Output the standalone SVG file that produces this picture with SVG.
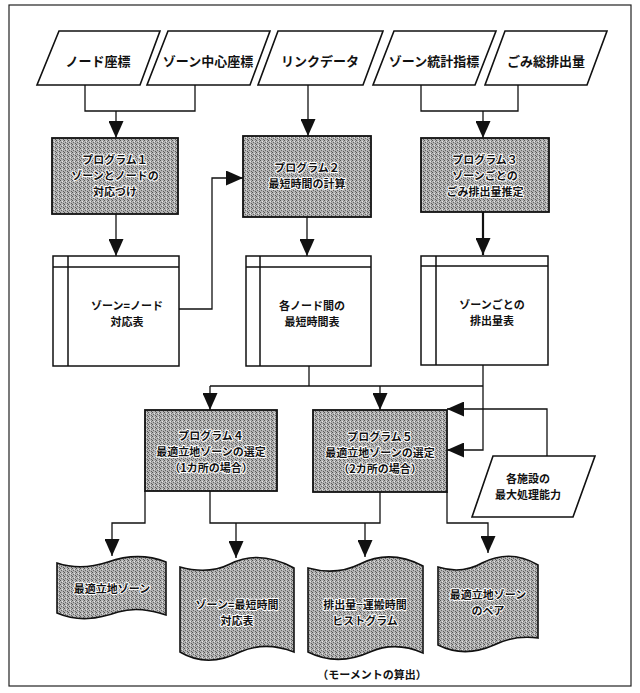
<svg xmlns="http://www.w3.org/2000/svg" width="640" height="693" viewBox="0 0 640 693">
<style>
.frame{fill:none;stroke:#222;stroke-width:1.2}
.io{fill:#fff;stroke:#111;stroke-width:1.6}
.prog{fill:url(#stip);stroke:#111;stroke-width:1.8}
.tbl{fill:#fff;stroke:#111;stroke-width:1.5}
.tl{fill:none;stroke:#111;stroke-width:1.5}
.doc{fill:url(#stip);stroke:#111;stroke-width:1.6}
.c{fill:none;stroke:#111;stroke-width:1.3}
.ck{fill:none;stroke:#111;stroke-width:2.2}
.t{font-family:"Noto Sans CJK JP","Noto Sans",sans-serif;font-size:13px;font-weight:bold;fill:#111;text-anchor:middle}
.ts{font-family:"Noto Sans CJK JP","Noto Sans",sans-serif;font-size:11px;font-weight:bold;fill:#111;text-anchor:middle}
.h{font-family:"Noto Sans CJK JP","Noto Sans",sans-serif;font-size:11px;font-weight:bold;fill:#111;text-anchor:middle;stroke:#fff;stroke-width:2;paint-order:stroke;stroke-linejoin:round}
</style>
<defs>
<pattern id="stip" width="4" height="4" patternUnits="userSpaceOnUse">
<rect width="4" height="4" fill="#b4b4b4"/>
<rect x="0" y="0" width="1" height="1" fill="#555"/>
<rect x="2" y="1" width="1" height="1" fill="#e6e6e6"/>
<rect x="1" y="2" width="1" height="1" fill="#666"/>
<rect x="3" y="3" width="1" height="1" fill="#5a5a5a"/>
<rect x="3" y="1" width="1" height="1" fill="#777"/>
</pattern>
<marker id="ah" markerUnits="userSpaceOnUse" markerWidth="17" markerHeight="15" refX="17" refY="7.5" orient="auto">
<path d="M0,0 L17,7.5 L0,15 z" fill="#111"/>
</marker>
</defs>
<rect class="frame" x="9" y="5" width="622" height="681"/>
<g id="connectors">
<path class="c" d="M85,85 V111 H195 V85"/>
<path class="c" d="M116,111 V138" marker-end="url(#ah)"/>
<path class="c" d="M308,85 V136" marker-end="url(#ah)"/>
<path class="c" d="M421,85 V111 H518 V85"/>
<path class="c" d="M483,111 V138" marker-end="url(#ah)"/>
<path class="c" d="M116,214 V256" marker-end="url(#ah)"/>
<path class="c" d="M307,217 V256" marker-end="url(#ah)"/>
<path class="ck" d="M483,212 V255" marker-end="url(#ah)"/>
<path class="c" d="M179,309 H212 V178 H243" marker-end="url(#ah)"/>
<path class="c" d="M309,366 V386"/>
<path class="c" d="M210,386 H483"/>
<path class="c" d="M483,365 V450 H447" marker-end="url(#ah)"/>
<path class="c" d="M210,386 V410" marker-end="url(#ah)"/>
<path class="c" d="M380,386 V410" marker-end="url(#ah)"/>
<path class="c" d="M547,456 V409 H447" marker-end="url(#ah)"/>
<path class="c" d="M145,491 V523 H112 V556" marker-end="url(#ah)"/>
<path class="c" d="M210,491 V523 H380 V492"/>
<path class="c" d="M236,523 V558" marker-end="url(#ah)"/>
<path class="c" d="M365,523 V557" marker-end="url(#ah)"/>
<path class="c" d="M447,492 V523 H488 V553" marker-end="url(#ah)"/>
</g>
<g id="in-node-coords">
<polygon class="io" points="59,31 160,31 140,85 37,85"/>
<text class="t" x="98" y="66">ノード座標</text>
</g>
<g id="in-zone-center">
<polygon class="io" points="168,31 270,31 250,85 147,85"/>
<text class="t" x="208" y="66">ゾーン中心座標</text>
</g>
<g id="in-link-data">
<polygon class="io" points="278,31 383,31 363,85 258,85"/>
<text class="t" x="320" y="66">リンクデータ</text>
</g>
<g id="in-zone-stats">
<polygon class="io" points="394,31 496,31 475,85 373,85"/>
<text class="t" x="434" y="66">ゾーン統計指標</text>
</g>
<g id="in-total-waste">
<polygon class="io" points="505,31 607,31 587,85 485,85"/>
<text class="t" x="546" y="66">ごみ総排出量</text>
</g>
<g id="prog1">
<rect class="prog" x="52" y="138" width="126" height="76"/>
<text class="h" x="115" y="164">プログラム１</text>
<text class="h" x="115" y="180">ゾーンとノードの</text>
<text class="h" x="115" y="196">対応づけ</text>
</g>
<g id="prog2">
<rect class="prog" x="243" y="136" width="128" height="81"/>
<text class="h" x="307" y="172">プログラム２</text>
<text class="h" x="307" y="188">最短時間の計算</text>
</g>
<g id="prog3">
<rect class="prog" x="421" y="138" width="128" height="74"/>
<text class="h" x="485" y="164">プログラム３</text>
<text class="h" x="485" y="180">ゾーンごとの</text>
<text class="h" x="485" y="196">ごみ排出量推定</text>
</g>
<g id="table1">
<rect class="tbl" x="53" y="256" width="126" height="110"/>
<path class="tl" d="M53,267 H179 M68,256 V366"/>
<text class="ts" x="127" y="310">ゾーン=ノード</text>
<text class="ts" x="127" y="326">対応表</text>
</g>
<g id="table2">
<rect class="tbl" x="246" y="256" width="125" height="110"/>
<path class="tl" d="M246,267 H371 M260,256 V366"/>
<text class="ts" x="312" y="310">各ノード間の</text>
<text class="ts" x="312" y="326">最短時間表</text>
</g>
<g id="table3">
<rect class="tbl" x="421" y="256" width="127" height="109"/>
<path class="tl" d="M421,266 H548 M436,256 V365"/>
<text class="ts" x="492" y="309">ゾーンごとの</text>
<text class="ts" x="492" y="325">排出量表</text>
</g>
<g id="prog4">
<rect class="prog" x="145" y="410" width="132" height="81"/>
<text class="h" x="211" y="440">プログラム４</text>
<text class="h" x="211" y="456">最適立地ゾーンの選定</text>
<text class="h" x="211" y="472">（1カ所の場合）</text>
</g>
<g id="prog5">
<rect class="prog" x="313" y="410" width="134" height="82"/>
<text class="h" x="380" y="441">プログラム５</text>
<text class="h" x="380" y="457">最適立地ゾーンの選定</text>
<text class="h" x="380" y="473">（2カ所の場合）</text>
</g>
<g id="in-capacity">
<polygon class="io" points="493,456 595,456 573,517 472,517"/>
<text class="ts" x="528" y="483">各施設の</text>
<text class="ts" x="528" y="499">最大処理能力</text>
</g>
<g id="out1">
<path class="doc" d="M57,563 C72,568 90,568 108,562 C128,555 148,555 166,562 L166,615 C150,610 135,607 118,612 C98,619 78,622 57,613 Z"/>
<text class="h" x="112" y="593">最適立地ゾーン</text>
</g>
<g id="out2">
<path class="doc" d="M180,567 C198,572 214,572 230,564 C248,555 270,555 294,568 L294,652 C276,645 258,644 240,652 C220,662 200,664 180,652 Z"/>
<text class="h" x="237" y="609">ゾーン=最短時間</text>
<text class="h" x="237" y="625">対応表</text>
</g>
<g id="out3">
<path class="doc" d="M308,568 C326,573 344,572 360,564 C378,555 400,554 423,566 L423,653 C405,645 388,644 370,652 C350,661 330,663 308,652 Z"/>
<text class="h" x="365" y="609">排出量−運搬時間</text>
<text class="h" x="365" y="625">ヒストグラム</text>
</g>
<g id="out4">
<path class="doc" d="M438,567 C454,572 468,571 482,563 C498,555 518,553 538,565 L538,638 C522,636 508,638 494,645 C476,653 456,654 438,645 Z"/>
<text class="h" x="488" y="599">最適立地ゾーン</text>
<text class="h" x="488" y="615">のペア</text>
</g>
<text class="ts" x="372" y="679">（モーメントの算出）</text>
</svg>
